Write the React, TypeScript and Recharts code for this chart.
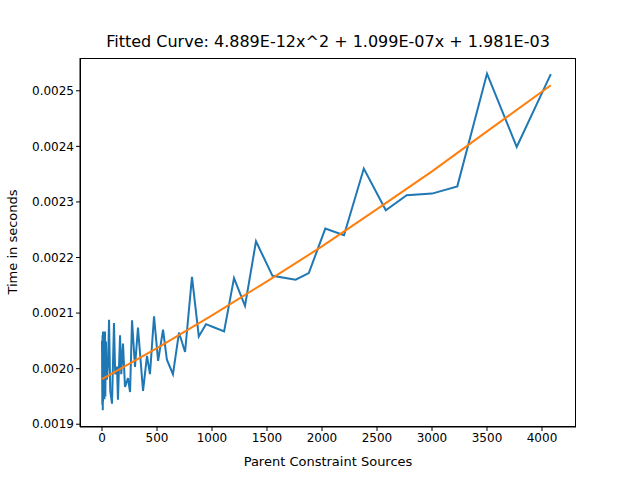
import { LineChart, Line, XAxis, YAxis, Label } from "recharts";

const sourcesX = [0, 3, 5, 7, 9, 9, 12, 15, 18, 22, 27, 30, 36, 40, 45, 55, 64, 75, 91, 100, 109, 120, 136, 145, 164, 175, 191, 209, 236, 255, 273, 300, 327, 373, 409, 436, 473, 510, 555, 590, 645, 700, 755, 818, 880, 945, 1010, 1110, 1200, 1300, 1400, 1550, 1760, 1880, 2030, 2200, 2380, 2580, 2770, 3000, 3230, 3500, 3770, 4080];
const timeY = [0.002050, 0.001935, 0.002060, 0.001925, 0.002067, 0.001940, 0.002055, 0.001960, 0.002067, 0.001945, 0.002067, 0.001950, 0.002049, 0.001990, 0.001980, 0.002010, 0.002088, 0.001960, 0.001937, 0.002010, 0.002082, 0.001990, 0.002004, 0.001944, 0.002060, 0.001990, 0.002045, 0.001967, 0.001983, 0.001958, 0.002087, 0.002003, 0.002074, 0.001960, 0.002023, 0.001990, 0.002094, 0.002014, 0.002070, 0.002016, 0.001990, 0.002065, 0.002030, 0.002165, 0.002058, 0.002080, 0.002075, 0.002067, 0.002163, 0.002113, 0.002229, 0.002167, 0.002160, 0.002172, 0.002252, 0.002240, 0.002360, 0.002285, 0.002312, 0.002315, 0.002328, 0.002531, 0.002399, 0.002530];
const fitX = [0, 500, 1000, 1500, 2000, 2500, 3000, 3500, 4080];
const fitY = [0.001981, 0.002037, 0.002096, 0.002157, 0.002220, 0.002287, 0.002355, 0.002427, 0.002510];

const xTicks = [0, 500, 1000, 1500, 2000, 2500, 3000, 3500, 4000];
const yTicks = [0.0019, 0.002, 0.0021, 0.0022, 0.0023, 0.0024, 0.0025];

const measured = sourcesX.map((x, i) => ({ x, y: timeY[i] }));
const fitted = fitX.map((x, i) => ({ x, y: fitY[i] }));

const font = "DejaVu Sans, sans-serif";
const tickStyle = { fill: "#000", fontSize: 12, fontFamily: font };

export default function App() {
  return (
    <div style={{ position: "absolute", left: 0, top: 0, width: 640, height: 480, background: "#fff" }}>
      <div style={{ position: "absolute", top: 32, left: 80, width: 496, textAlign: "center", fontFamily: font, fontSize: 16 }}>
        Fitted Curve: 4.889E-12x^2 + 1.099E-07x + 1.981E-03
      </div>
      <LineChart width={640} height={480} margin={{ top: 58, right: 64, left: 10, bottom: 0 }}>
        <XAxis
          type="number"
          dataKey="x"
          domain={[-200, 4309]}
          ticks={xTicks}
          allowDataOverflow
          height={53}
          tick={tickStyle}
          tickSize={4}
          stroke="#000"
        >
          <Label value="Parent Constraint Sources" position="insideBottom" offset={14} style={{ fill: "#000", fontSize: 13, fontFamily: font }} />
        </XAxis>
        <YAxis
          type="number"
          dataKey="y"
          domain={[0.001895, 0.002559]}
          ticks={yTicks}
          allowDataOverflow
          width={70}
          tick={tickStyle}
          tickSize={4}
          stroke="#000"
          tickFormatter={(v: number) => v.toFixed(4)}
        />
        <Line data={measured} dataKey="y" stroke="#1f77b4" strokeWidth={2} dot={false} isAnimationActive={false} />
        <Line data={fitted} dataKey="y" stroke="#ff7f0e" strokeWidth={2} dot={false} isAnimationActive={false} />
      </LineChart>
      <svg style={{ position: "absolute", left: 0, top: 0, pointerEvents: "none" }} width={30} height={480}>
        <text x={13} y={242} transform="rotate(-90 13 242)" textAnchor="middle" dominantBaseline="middle" style={{ fontSize: 13, fontFamily: font, fill: "#000" }}>
          Time in seconds
        </text>
      </svg>
      <div style={{ position: "absolute", left: 80, top: 58, width: 496, height: 369, border: "1px solid #000", boxSizing: "border-box", pointerEvents: "none" }} />
    </div>
  );
}
